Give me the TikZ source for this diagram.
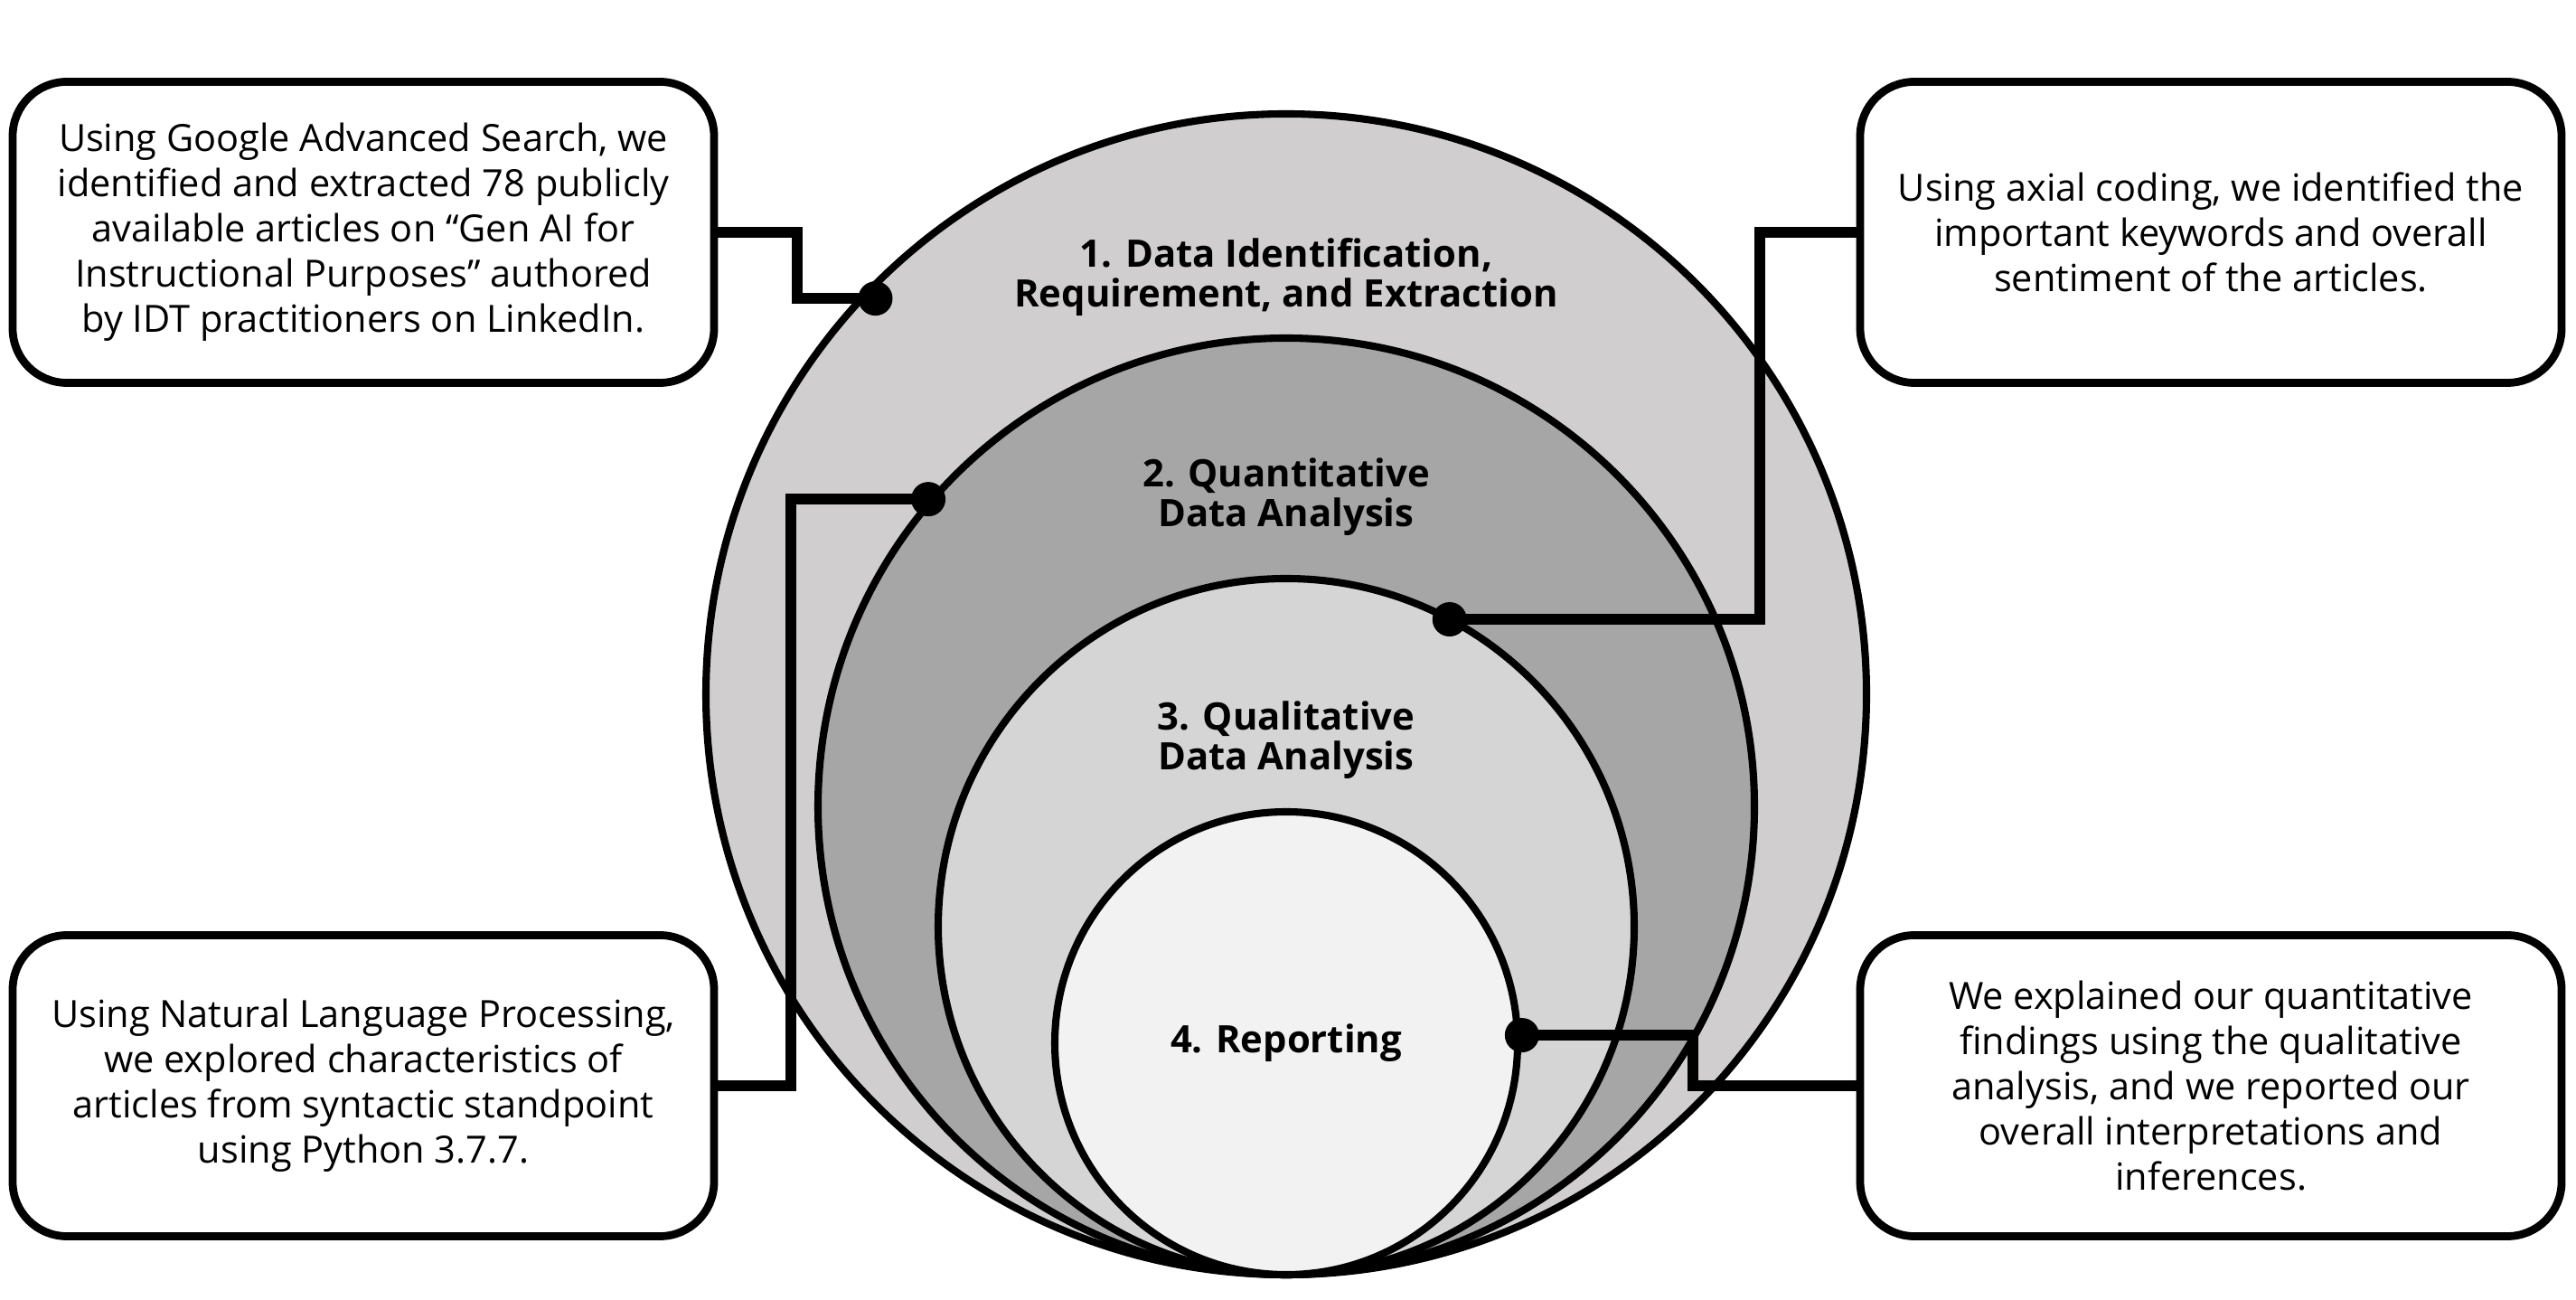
\documentclass[tikz,border=0pt]{standalone}
\usepackage{fontspec}
\setmainfont{Open Sans}
\usepackage{tikz}

\definecolor{ringA}{RGB}{208,206,207}
\definecolor{ringB}{RGB}{166,166,166}
\definecolor{ringC}{RGB}{213,213,213}
\definecolor{ringD}{RGB}{242,242,242}

\begin{document}
\begin{tikzpicture}
    \tikzstyle{every node} = [font=\fontsize{11.8}{14.2}\selectfont]
    \tikzstyle{box} = [draw, line width=2.5pt, rectangle, fill=white, rounded corners=0.6cm, minimum width=7.76cm, minimum height=3.33cm, align=center]
    \tikzstyle{ring} = [draw, line width=2.3pt, circle, inner sep=0pt, outer sep=0pt]
    \tikzstyle{stage} = [font=\bfseries\fontsize{11.9}{12.5}\selectfont, align=center]
    \tikzstyle{link} = [line width=3.4pt]
    \tikzstyle{dot} = [circle, fill=black, inner sep=0pt, minimum size=0.38cm]
    \useasboundingbox (0,0) rectangle (28.5,14.38);

    % place nodes
    \node[ring,fill=ringA,minimum size=12.84cm](dataId) at (14.23,6.70){};
    \node[ring,fill=ringB,minimum size=10.36cm](quantAna) at (14.23,5.46){};
    \node[ring,fill=ringC,minimum size=7.70cm](qualAna) at (14.23,4.13){};
    \node[ring,fill=ringD,minimum size=5.12cm,stage](reporting) at (14.23,2.84){4. Reporting};

    \node[stage](dataIdText) at (14.23,11.31){1. Data Identification,\\Requirement, and Extraction};
    \node[stage](quantText) at (14.23,8.88){2. Quantitative\\Data Analysis};
    \node[stage](qualText) at (14.23,6.19){3. Qualitative\\Data Analysis};

    \node[box](searchBox) at (4.02,11.81){Using Google Advanced Search, we\\identified and extracted 78 publicly\\available articles on “Gen AI for\\Instructional Purposes” authored\\by IDT practitioners on LinkedIn.};
    \node[box](codingBox) at (24.46,11.81){Using axial coding, we identified the\\important keywords and overall\\sentiment of the articles.};
    \node[box](nlpBox) at (4.02,2.37){Using Natural Language Processing,\\we explored characteristics of\\articles from syntactic standpoint\\using Python 3.7.7.};
    \node[box](reportBox) at (24.46,2.37){We explained our quantitative\\findings using the qualitative\\analysis, and we reported our\\overall interpretations and\\inferences.};

    % Connections
    \coordinate (dotA) at ([xshift=0.15cm]dataId.137);
    \coordinate (dotB) at ([xshift=-0.05cm]quantAna.139);
    \coordinate (dotC) at (qualAna.62);
    \coordinate (dotD) at ([xshift=0.05cm]reporting.2);
    \draw[link] (searchBox.east)--++(0.88,0)|-(dotA);
    \draw[link] (nlpBox.east)--++(0.81,0)|-(dotB);
    \draw[link] (codingBox.west)--++(-1.07,0)|-(dotC);
    \draw[link] (reportBox.west)--++(-1.81,0)|-(dotD);
    \node[dot](pinA) at (dotA){};
    \node[dot](pinB) at (dotB){};
    \node[dot](pinC) at (dotC){};
    \node[dot](pinD) at (dotD){};

\end{tikzpicture}
\end{document}
